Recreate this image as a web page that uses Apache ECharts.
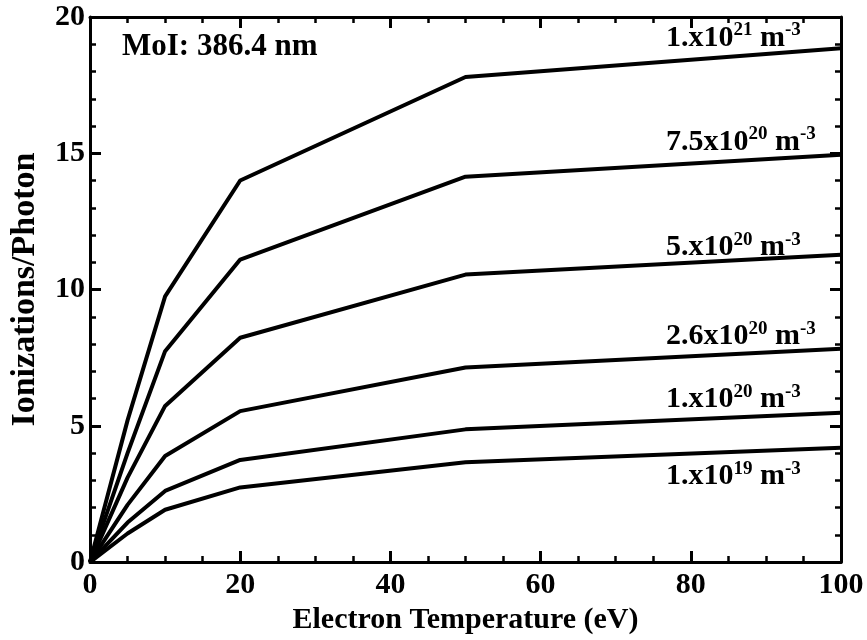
<!DOCTYPE html>
<html>
<head>
<meta charset="utf-8">
<script src="https://cdn.jsdelivr.net/npm/echarts@6/dist/echarts.min.js"></script>
<style>
  html, body { margin: 0; padding: 0; background: #fff; }
  #chart { width: 867px; height: 640px; }
</style>
</head>
<body>
<div id="chart"></div>
<script>
// Electron temperature grid (eV)
const temperature = [0, 5, 10, 20, 50, 100];

// Ionizations per photon for each electron density
const ne1e21   = [0, 5.2, 9.75, 14.0, 17.8, 18.85];
const ne7_5e20 = [0, 4.0, 7.74, 11.1, 14.14, 14.95];
const ne5e20   = [0, 3.1, 5.73, 8.23, 10.55, 11.28];
const ne2_6e20 = [0, 2.1, 3.89, 5.54, 7.14, 7.83];
const ne1e20   = [0, 1.45, 2.61, 3.75, 4.87, 5.48];
const ne1e19   = [0, 1.05, 1.92, 2.74, 3.66, 4.2];

// Density labels: mantissa and exponent
const densityMantissa = ['1.x10', '7.5x10', '5.x10', '2.6x10', '1.x10', '1.x10'];
const densityExponent = ['21', '20', '20', '20', '20', '19'];

const xTicks = [0, 20, 40, 60, 80, 100];
const yTicks = [0, 5, 10, 15, 20];

const seriesValues = [ne1e21, ne7_5e20, ne5e20, ne2_6e20, ne1e20, ne1e19];

// where each density label sits, in axis units
const labelAnchorX = 76.7;
const labelAnchorY = [19.23, 15.42, 11.54, 8.28, 5.97, 3.15];

const FONT = 'Liberation Serif';
const INK = '#000';

const chart = echarts.init(document.getElementById('chart'), null, { renderer: 'canvas' });

const richStyles = {
  b: { fontFamily: FONT, fontWeight: 'bold', fontSize: 30, color: INK, lineHeight: 34 },
  sup: { fontFamily: FONT, fontWeight: 'bold', fontSize: 19, color: INK, lineHeight: 34, verticalAlign: 'top' }
};

const series = seriesValues.map((vals, i) => ({
  type: 'line',
  xAxisIndex: 0,
  yAxisIndex: 0,
  data: temperature.map((t, k) => [t, vals[k]]),
  symbol: 'none',
  lineStyle: { color: INK, width: 4, join: 'round' },
  silent: true,
  animation: false,
  markPoint: {
    silent: true,
    symbol: 'circle',
    symbolSize: 0,
    data: [{
      coord: [labelAnchorX, labelAnchorY[i]],
      label: {
        show: true,
        position: 'right',
        distance: 0,
        formatter: '{b|' + densityMantissa[i] + '}{sup|' + densityExponent[i] + '}{b| m}{sup|-3}',
        rich: richStyles
      }
    }]
  }
}));

const tickLabelStyle = {
  fontFamily: FONT, fontWeight: 'bold', fontSize: 30, color: INK
};

// shared frame styling: heavy axis lines, ticks pointing into the plot
const frameLine = { show: true, onZero: false, lineStyle: { color: INK, width: 3 } };
const majorTick = { show: true, inside: true, length: 11, lineStyle: { color: INK, width: 3 } };
const minorTickX = { show: true, splitNumber: 4, length: 6, lineStyle: { color: INK, width: 2.5 } };
const minorTickY = { show: true, splitNumber: 5, length: 6, lineStyle: { color: INK, width: 2.5 } };

const option = {
  animation: false,
  backgroundColor: '#fff',
  grid: { left: 86, right: 26, top: 17, bottom: 77, containLabel: false },
  xAxis: [{
    type: 'value', position: 'bottom', min: 0, max: 100, interval: 20,
    name: 'Electron Temperature (eV)', nameLocation: 'middle', nameGap: 42,
    nameTextStyle: { fontFamily: FONT, fontWeight: 'bold', fontSize: 30, color: INK },
    axisLine: frameLine,
    axisTick: majorTick,
    minorTick: minorTickX,
    axisLabel: Object.assign({ margin: 8, formatter: v => xTicks.includes(v) ? String(v) : '' }, tickLabelStyle),
    splitLine: { show: false }
  }, {
    type: 'value', position: 'top', min: 0, max: 100, interval: 20,
    axisLine: frameLine,
    axisTick: majorTick,
    minorTick: minorTickX,
    axisLabel: { show: false },
    splitLine: { show: false }
  }],
  yAxis: [{
    type: 'value', position: 'left', min: 0, max: 20, interval: 5,
    name: 'Ionizations/Photon', nameLocation: 'middle', nameGap: 48, nameRotate: 90,
    nameTextStyle: { fontFamily: FONT, fontWeight: 'bold', fontSize: 34, color: INK },
    axisLine: frameLine,
    axisTick: majorTick,
    minorTick: minorTickY,
    axisLabel: Object.assign({ margin: 5, formatter: v => yTicks.includes(v) ? String(v) : '' }, tickLabelStyle),
    splitLine: { show: false }
  }, {
    type: 'value', position: 'right', min: 0, max: 20, interval: 5,
    axisLine: frameLine,
    axisTick: majorTick,
    minorTick: minorTickY,
    axisLabel: { show: false },
    splitLine: { show: false }
  }],
  graphic: [{
    type: 'text',
    left: 122,
    top: 31,
    silent: true,
    style: {
      text: 'MoI: 386.4 nm',
      fontFamily: FONT, fontWeight: 'bold', fontSize: 31, fill: INK
    }
  }],
  series: series
};

chart.setOption(option);
</script>
</body>
</html>
